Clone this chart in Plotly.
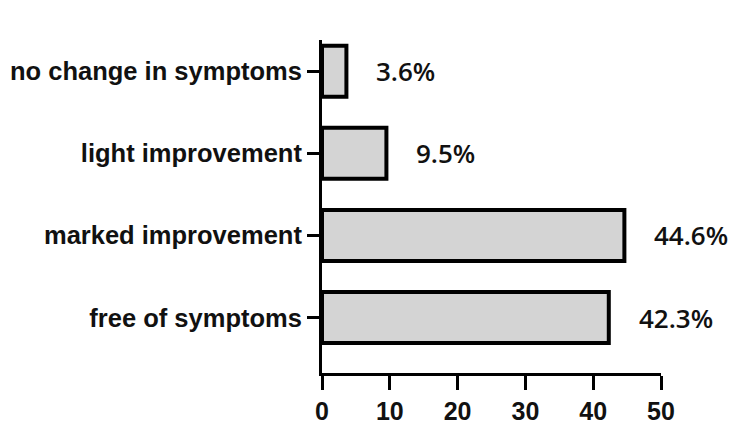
import plotly.graph_objects as go

categories = ["free of symptoms", "marked improvement", "light improvement", "no change in symptoms"]
values = [42.3, 44.6, 9.5, 3.6]
labels = ["42.3%", "44.6%", "9.5%", "3.6%"]
x_ticks = [0, 10, 20, 30, 40, 50]

fig = go.Figure()
fig.add_trace(go.Bar(
    y=categories, x=values, orientation="h",
    width=0.62,
    marker=dict(color="#d4d4d4", line=dict(color="black", width=4)),
    hoverinfo="skip",
))

for cat, v, lab in zip(categories, values, labels):
    fig.add_annotation(x=v, y=cat, text=lab, showarrow=False,
                       xanchor="left", xshift=28,
                       font=dict(family="Open Sans", size=26, color="#111", weight=600))

fig.update_xaxes(range=[0, 50], tickvals=x_ticks, showline=True, linecolor="black",
                 linewidth=3, ticks="outside", ticklen=14, tickwidth=3, tickcolor="black",
                 showgrid=False, zeroline=False, automargin=False,
                 tickfont=dict(family="Liberation Sans", size=25, color="#111", weight="bold"))
fig.update_yaxes(range=[-0.675, 3.38], showline=True, linecolor="black", linewidth=3,
                 ticks="outside", ticklen=12, tickwidth=3, tickcolor="black",
                 showgrid=False, zeroline=False, ticklabelstandoff=0, automargin=False,
                 tickfont=dict(family="Liberation Sans", size=25.5, color="#111", weight="bold"))

# page body adds ~8px offset, so the figure is a bit smaller than the window
fig.update_layout(width=736, height=421, plot_bgcolor="white", paper_bgcolor="white",
                  margin=dict(l=314, r=83, t=32, b=56), showlegend=False)

fig.write_html("out.html")
